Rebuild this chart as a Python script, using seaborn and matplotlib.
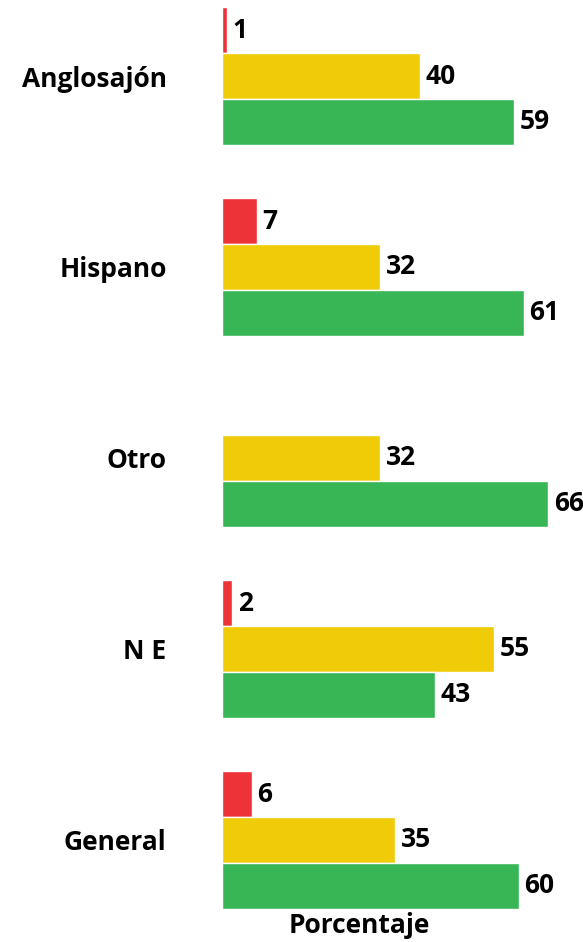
import numpy as np
import pandas as pd
import seaborn as sns
import matplotlib.pyplot as plt

# Categories and the three response shares (percent)
categorias = ["Anglosajón", "Hispano", "Otro", "N E", "General"]
rojo = [1, 7, np.nan, 2, 6]
amarillo = [40, 32, 32, 55, 35]
verde = [59, 61, 66, 43, 60]
series = ["Rojo", "Amarillo", "Verde"]
colores = ["#EE3338", "#F0CB08", "#38B656"]

df = pd.DataFrame({
    "categoria": categorias * 3,
    "serie": [s for s in series for _ in categorias],
    "valor": rojo + amarillo + verde,
})

sns.set_theme(style="white")
plt.rcParams["font.family"] = ["Open Sans", "DejaVu Sans"]
FS = 19
W = "bold"

fig = plt.figure(figsize=(5.83, 9.42), dpi=100)
ax = fig.add_axes([0.381, 0.032, 0.619, 0.968])

sns.barplot(data=df, x="valor", y="categoria", hue="serie",
            order=categorias, hue_order=series, palette=colores,
            orient="h", width=0.72, saturation=1, ax=ax, legend=False)

for cont in ax.containers:
    labels = ["" if np.isnan(v) else f"{v:.0f}" for v in cont.datavalues]
    ax.bar_label(cont, labels=labels, padding=4, fontsize=FS,
                 fontweight=W, color="black")

ax.set_xlim(0, 73)
ax.set_ylim(4.377, -0.398)
ax.set_xticks([])
ax.set_ylabel("")
ax.set_xlabel("Porcentaje", fontsize=FS, fontweight=W, color="black")
ax.xaxis.set_label_coords(0.38, 0.0)
ax.tick_params(axis="y", length=0, pad=40, labelsize=FS, labelcolor="black")
for t in ax.get_yticklabels():
    t.set_fontweight(W)
sns.despine(ax=ax, left=True, bottom=True)

fig.savefig("out.png", dpi=100)
